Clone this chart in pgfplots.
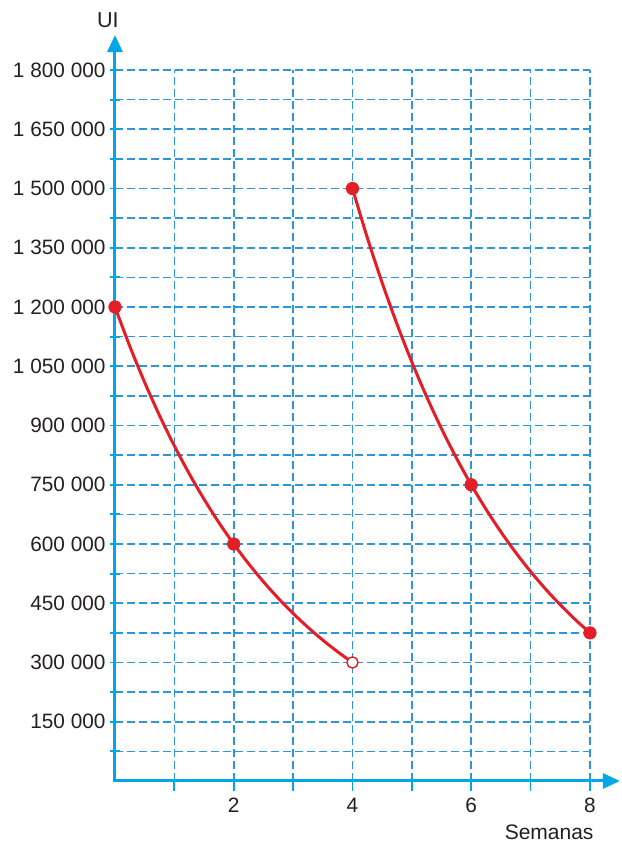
\documentclass[border=0pt]{standalone}
\usepackage{fontspec}
\setmainfont{Liberation Sans}
\usepackage{pgfplots}
\pgfplotsset{compat=1.18}
\usetikzlibrary{arrows.meta}
\definecolor{axblue}{RGB}{0,167,232}
\definecolor{gridblue}{RGB}{45,150,215}
\definecolor{curvered}{RGB}{228,30,38}
\definecolor{txt}{RGB}{35,31,32}
\begin{document}
\begin{tikzpicture}
\begin{axis}[
  scale only axis, width=237.5pt, height=355.5pt,
  xmin=0, xmax=8, ymin=0, ymax=1800000,
  axis lines=left, axis line style={draw=none},
  clip=false,
  xtick={1,...,8}, xticklabels={,2,,4,,6,,8},
  ytick={150000,300000,...,1800000},
  minor ytick={75000,225000,...,1725000},
  scaled y ticks=false,
  grid=both,
  grid style={gridblue, line width=0.8pt, dash pattern=on 4pt off 2pt},
  every major grid/.style={gridblue, line width=0.8pt, dash pattern=on 4pt off 2pt},
  every minor grid/.style={gridblue, line width=0.8pt, dash pattern=on 4pt off 2pt},
  major tick length=5pt, minor tick length=5pt,
  xtick align=outside, ytick align=center,
  tick style={axblue, line width=0.9pt},
  ticklabel style={font=\fontsize{10.4}{12}\selectfont, text=txt},
  yticklabel style={xshift=1.3pt, /pgf/number format/.cd, fixed, precision=0, 1000 sep={\ }, assume math mode=true},
]
\draw[axblue, line width=1.5pt, line join=miter,
  {Triangle[length=8.5pt,width=7.5pt]}-{Triangle[length=8.5pt,width=7.5pt]}]
  (axis cs:8.505,0) -- (axis cs:0,0) -- (axis cs:0,1888600);
\path (rel axis cs:-0.2421,-0.0844) rectangle (rel axis cs:1.0632,1.0985);
\node[inner sep=0pt, font=\fontsize{10.8}{12}\selectfont, text=txt] at (rel axis cs:-0.015,1.070) {UI};
\node[inner sep=0pt, font=\fontsize{10.5}{12}\selectfont, text=txt] at (rel axis cs:0.914,-0.0717) {Semanas};
\addplot[curvered, line width=1.5pt, smooth] coordinates {
  (0,1200000) (0.25,1100404) (0.5,1009076) (0.75,925326) (1,848528)
  (1.25,778104) (1.5,713524) (1.75,654305) (2,600000)
  (2.25,550202) (2.5,504538) (2.75,462663) (3,424264)
  (3.25,389052) (3.5,356762) (3.75,327152) (4,300000)};
\addplot[curvered, line width=1.5pt, smooth] coordinates {
  (4,1500000) (4.25,1375506) (4.5,1261344) (4.75,1156658) (5,1060660)
  (5.25,972630) (5.5,891906) (5.75,817881) (6,750000)
  (6.25,687753) (6.5,630672) (6.75,578329) (7,530330)
  (7.25,486315) (7.5,445953) (7.75,408941) (8,375000)};
\addplot[only marks, mark=*, mark size=3.1pt, mark options={draw=curvered, fill=curvered}]
  coordinates {(0,1200000) (2,600000) (4,1500000) (6,750000) (8,375000)};
\addplot[only marks, mark=*, mark size=2.8pt, mark options={draw=curvered, fill=white, line width=0.7pt}]
  coordinates {(4,300000)};
\end{axis}
\end{tikzpicture}
\end{document}
